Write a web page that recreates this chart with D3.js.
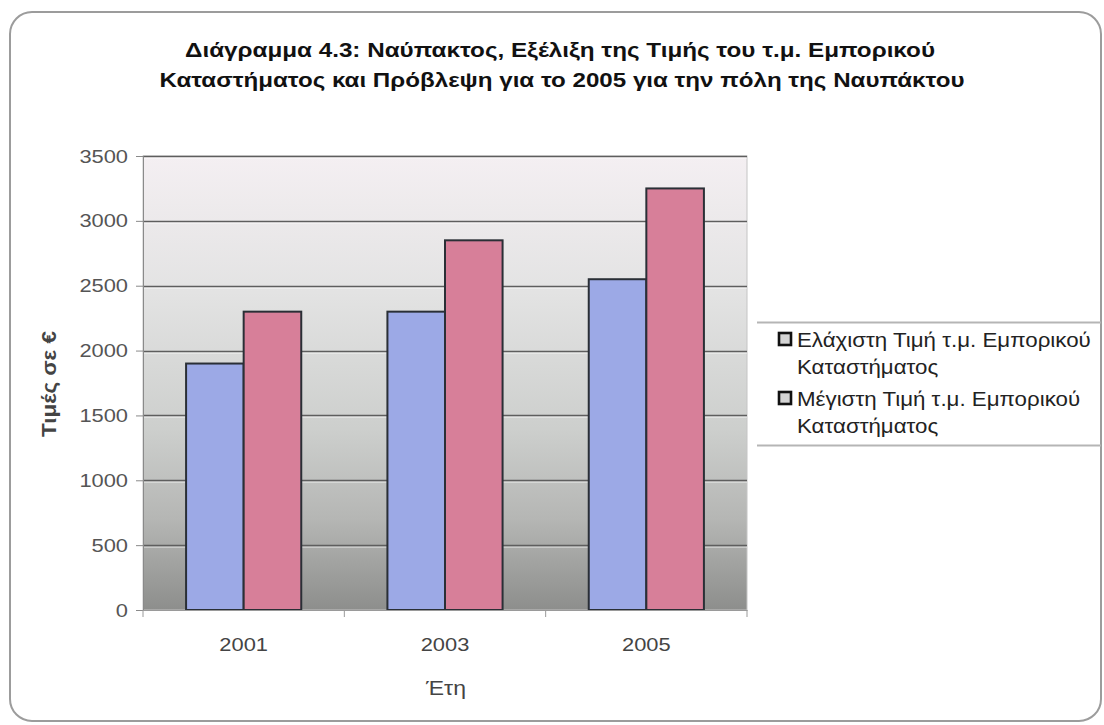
<!DOCTYPE html>
<html>
<head>
<meta charset="utf-8">
<script src="https://cdn.jsdelivr.net/npm/d3@7"></script>
<style>
  html, body { margin: 0; padding: 0; background: #ffffff; }
  svg { display: block; font-family: "Liberation Sans", Arial, sans-serif; }
</style>
</head>
<body>
<svg id="chart" width="1104" height="725"></svg>
<script>
const titleLines = [
  "Διάγραμμα 4.3: Ναύπακτος, Εξέλιξη της Τιμής του τ.μ. Εμπορικού",
  "Καταστήματος και Πρόβλεψη για το 2005 για την πόλη της Ναυπάκτου"
];
const categories = ["2001", "2003", "2005"];
const seriesNames = [
  ["Ελάχιστη Τιμή τ.μ. Εμπορικού", "Καταστήματος"],
  ["Μέγιστη Τιμή τ.μ. Εμπορικού", "Καταστήματος"]
];
const minValues = [1900, 2300, 2550];
const maxValues = [2300, 2850, 3250];
const yTicks = [0, 500, 1000, 1500, 2000, 2500, 3000, 3500];
const yTitle = "Τιμές σε €";
const xTitle = "Έτη";
const colors = ["#9ca9e6", "#d77f99"];

const STRETCH = 1.15; // the reference text is slightly wide
function stretch(sel, f) {
  sel.each(function () {
    const len = this.getComputedTextLength();
    d3.select(this).attr("textLength", len * (f || STRETCH)).attr("lengthAdjust", "spacingAndGlyphs");
  });
}

const svg = d3.select("#chart");
const defs = svg.append("defs");
const grad = defs.append("linearGradient").attr("id", "bg").attr("x1", 0).attr("y1", 0).attr("x2", 0).attr("y2", 1);
[[0, "#f4eff2"], [0.3, "#e3e3e3"], [0.6, "#cdcfcd"], [0.8, "#b5b6b4"], [1, "#8d8e8c"]]
  .forEach(([o, c]) => grad.append("stop").attr("offset", o).attr("stop-color", c));

// outer frame
svg.append("rect").attr("x", 10).attr("y", 12).attr("width", 1091).attr("height", 709)
  .attr("rx", 22).attr("fill", "#ffffff").attr("stroke", "#9c9c9c").attr("stroke-width", 2);

// title
const tl = svg.append("g").attr("font-weight", "bold").attr("font-size", 21).attr("fill", "#111");
tl.append("text").attr("x", 560).attr("y", 57).attr("text-anchor", "middle")
  .attr("textLength", 750).attr("lengthAdjust", "spacingAndGlyphs").text(titleLines[0]);
tl.append("text").attr("x", 562).attr("y", 87).attr("text-anchor", "middle")
  .attr("textLength", 805).attr("lengthAdjust", "spacingAndGlyphs").text(titleLines[1]);

const plot = { left: 143, right: 747, top: 156, bottom: 610 };

const y = d3.scaleLinear().domain([0, 3500]).range([plot.bottom, plot.top]);
const x0 = d3.scaleBand().domain(categories).range([plot.left, plot.right])
  .paddingInner(0.428).paddingOuter(0.214);
const x1 = d3.scaleBand().domain([0, 1]).range([0, x0.bandwidth()]);

// plot background
svg.append("rect").attr("x", plot.left).attr("y", plot.top)
  .attr("width", plot.right - plot.left).attr("height", plot.bottom - plot.top)
  .attr("fill", "url(#bg)").attr("stroke", "#c4c4c4").attr("stroke-width", 1);

// gridlines
const grid = svg.append("g");
const gl = yTicks.filter(t => t > 0);
grid.selectAll("line.g").data(gl).join("line").attr("class", "g")
  .attr("x1", plot.left).attr("x2", plot.right)
  .attr("y1", d => Math.round(y(d)) + 0.5).attr("y2", d => Math.round(y(d)) + 0.5)
  .attr("stroke", "#5e5e5e").attr("stroke-width", 1.4);
grid.selectAll("line.h").data(gl).join("line").attr("class", "h")
  .attr("x1", plot.left).attr("x2", plot.right)
  .attr("y1", d => Math.round(y(d)) + 2.2).attr("y2", d => Math.round(y(d)) + 2.2)
  .attr("stroke", "#ffffff").attr("stroke-opacity", 0.55).attr("stroke-width", 1);

// bars
const data = categories.map((c, i) => ({ cat: c, vals: [minValues[i], maxValues[i]] }));
const groups = svg.append("g").selectAll("g").data(data).join("g")
  .attr("transform", d => `translate(${x0(d.cat)},0)`);
groups.selectAll("rect").data(d => d.vals.map((v, k) => ({ v, k }))).join("rect")
  .attr("x", d => x1(d.k)).attr("width", x1.bandwidth())
  .attr("y", d => y(d.v)).attr("height", d => plot.bottom - y(d.v))
  .attr("fill", d => colors[d.k]).attr("stroke", "#2a2f36").attr("stroke-width", 2);

// y axis
const yAxis = svg.append("g").attr("transform", `translate(${plot.left},0)`)
  .call(d3.axisLeft(y).tickValues(yTicks).tickFormat(d3.format("d")).tickSize(7).tickPadding(8));
yAxis.select(".domain").attr("stroke", "#8a8a8a");
yAxis.selectAll(".tick line").attr("stroke", "#8a8a8a");
yAxis.selectAll(".tick text").attr("font-size", 19).attr("fill", "#555")
  .attr("font-family", "Liberation Sans, Arial, sans-serif").call(stretch);

// x axis
const xAxis = svg.append("g").attr("transform", `translate(0,${plot.bottom})`)
  .call(d3.axisBottom(x0).tickSize(0).tickPadding(28));
xAxis.select(".domain").attr("stroke", "#9a9a9a");
xAxis.selectAll(".tick text").attr("font-size", 19).attr("fill", "#444")
  .attr("font-family", "Liberation Sans, Arial, sans-serif").call(stretch);
const step = x0.step();
svg.append("g").selectAll("line").data(d3.range(categories.length + 1)).join("line")
  .attr("x1", i => plot.left + i * step).attr("x2", i => plot.left + i * step)
  .attr("y1", plot.bottom).attr("y2", plot.bottom + 7).attr("stroke", "#9a9a9a");

// axis titles
svg.append("text").attr("transform", "translate(56,384) rotate(-90)")
  .attr("text-anchor", "middle").attr("font-size", 20).attr("font-weight", "bold")
  .attr("fill", "#444").text(yTitle).call(stretch, 1.12);
svg.append("text").attr("x", 446).attr("y", 695).attr("text-anchor", "middle")
  .attr("font-size", 20).attr("fill", "#444").text(xTitle).call(stretch);

// legend
const lg = svg.append("g");
lg.append("line").attr("x1", 757).attr("x2", 1101).attr("y1", 322.5).attr("y2", 322.5).attr("stroke", "#b5b5b5").attr("stroke-width", 2);
lg.append("line").attr("x1", 757).attr("x2", 1101).attr("y1", 445.5).attr("y2", 445.5).attr("stroke", "#b5b5b5").attr("stroke-width", 2);
const items = lg.selectAll("g").data(seriesNames).join("g")
  .attr("transform", (d, i) => `translate(779,${333 + i * 59})`);
items.append("rect").attr("x", 0).attr("y", 0).attr("width", 12).attr("height", 12)
  .attr("fill", "#d4d4d4").attr("stroke", "#111").attr("stroke-width", 2.6);
items.selectAll("text").data(d => d).join("text")
  .attr("font-size", 20).attr("fill", "#222")
  .attr("x", 18).attr("y", (d, i) => i === 0 ? 14 : 41).text(d => d)
  .call(stretch, 1.115);
</script>
</body>
</html>
